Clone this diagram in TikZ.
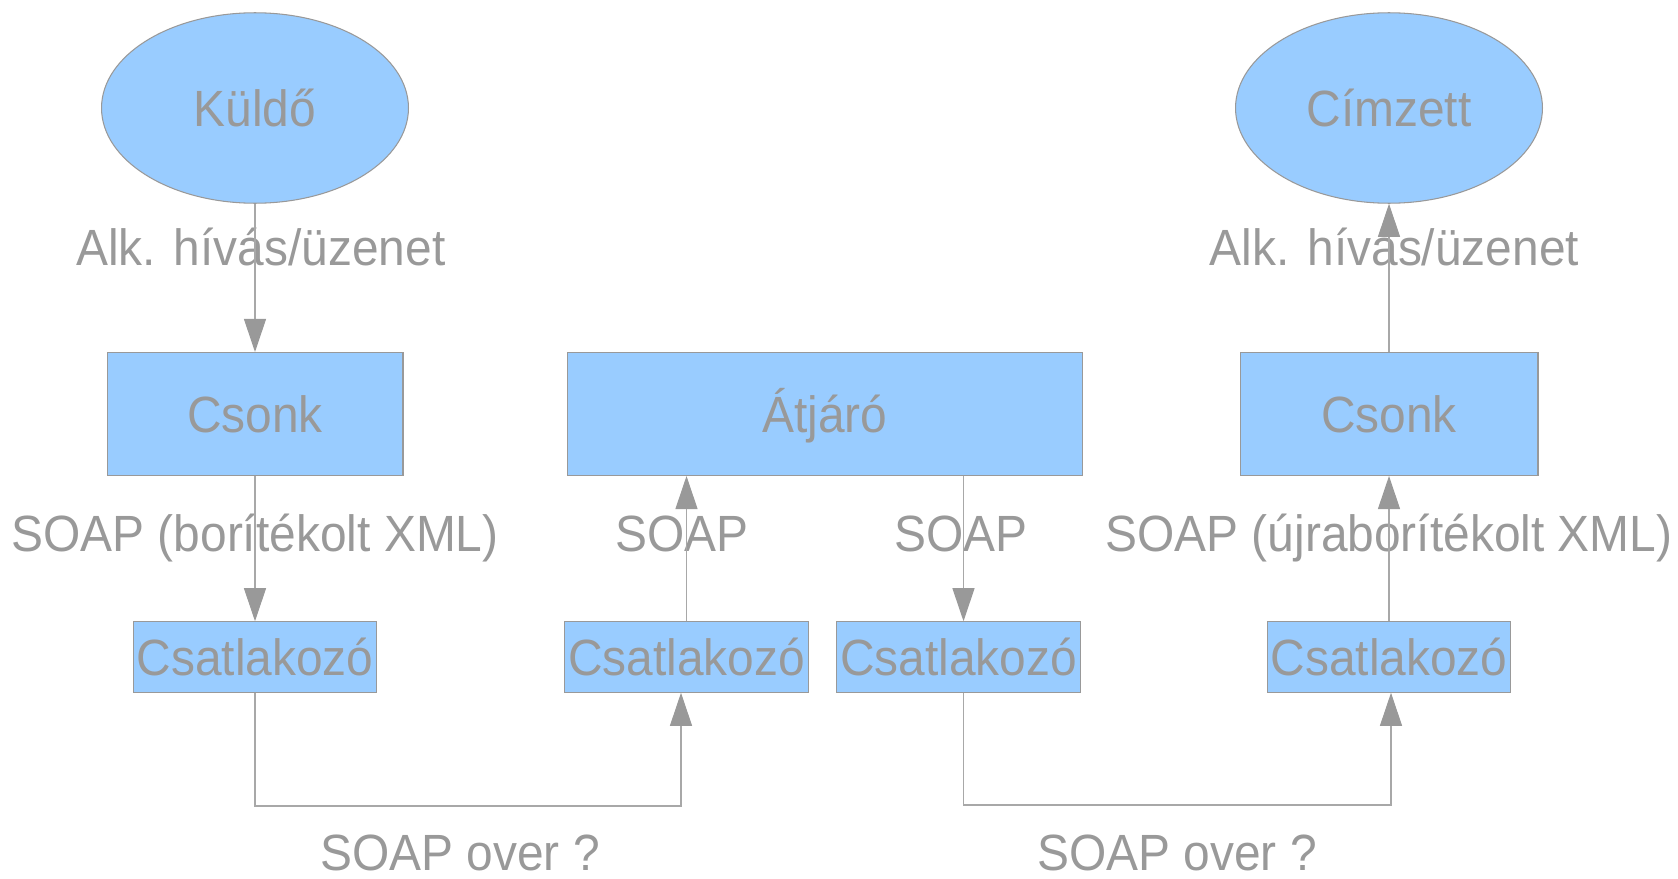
\documentclass[tikz,border=0pt]{standalone}
\usepackage{fontspec}
\setmainfont{Liberation Sans}[FakeStretch=0.94]
\usetikzlibrary{arrows.meta,shapes.geometric}
\definecolor{boxfill}{HTML}{99CCFF}
\definecolor{txtgray}{HTML}{999999}
\definecolor{linegray}{HTML}{A8A8A8}
\begin{document}
\begin{tikzpicture}[x=0.02cm,y=-0.02cm,
  every node/.style={font=\fontsize{29pt}{34pt}\selectfont, text=txtgray},
  shapebox/.style={draw=txtgray, fill=boxfill, line width=0.6pt, inner sep=0pt, text height=20.8pt, text depth=0pt},
  ellip/.style={shapebox, ellipse, minimum width=6.14cm, minimum height=3.81cm},
  bigbox/.style={shapebox, minimum height=2.46cm},
  plug/.style={shapebox, minimum width=4.87cm, minimum height=1.41cm},
  lbl/.style={anchor=base, inner sep=0pt},
  conn/.style={draw=linegray, line width=0.6pt},
  arr/.style={conn, -{Triangle[length=0.66cm,width=0.44cm,color=txtgray]}}
]
\useasboundingbox (0,0) rectangle (1678,879);

% shapes
\node[ellip] (kuldo) at (255,108) {Küldő};
\node[ellip] (cimzett) at (1389,108) {Címzett};
\node[bigbox, minimum width=5.92cm] (csonk1) at (255,414) {Csonk};
\node[bigbox, minimum width=10.3cm] (atjaro) at (825,414) {Átjáró};
\node[bigbox, minimum width=5.96cm] (csonk2) at (1389,414) {Csonk};
\node[plug] (csat1) at (255,657) {Csatlakozó};
\node[plug] (csat2) at (686.5,657) {Csatlakozó};
\node[plug] (csat3) at (958.5,657) {Csatlakozó};
\node[plug] (csat4) at (1389,657) {Csatlakozó};

% labels
\node[lbl] (l1) at (261,265) {Alk. hívás/üzenet};
\node[lbl] (l2) at (1394.5,265) {Alk. hívás/üzenet};
\node[lbl] (l3) at (255,551) {SOAP (borítékolt XML)};
\node[lbl] (l4) at (682,551) {SOAP};
\node[lbl] (l5) at (961,551) {SOAP};
\node[lbl] (l6) at (1389,551) {SOAP (újraborítékolt XML)};
\node[lbl] (l7) at (460,870) {SOAP over ?};
\node[lbl] (l8) at (1177,870) {SOAP over ?};

% connectors
\coordinate (b1) at (681,806);
\coordinate (b2) at (1391,805);
\draw[arr] (kuldo.south) -- (csonk1.north);
\draw[arr] (csonk1.south) -- (csat1.north);
\draw[arr] (csat1.south) |- (b1) -- (b1 |- csat2.south);
\draw[arr] (csat2.north) -- (atjaro.south -| csat2.north);
\draw[arr] ([xshift=0.1cm]atjaro.south -| csat3.north) -- ([xshift=0.1cm]csat3.north);
\draw[arr] ([xshift=0.1cm]csat3.south) |- (b2) -- (b2 |- csat4.south);
\draw[arr] (csat4.north) -- (csonk2.south);
\draw[arr] (csonk2.north) -- (cimzett.south);
\end{tikzpicture}
\end{document}
